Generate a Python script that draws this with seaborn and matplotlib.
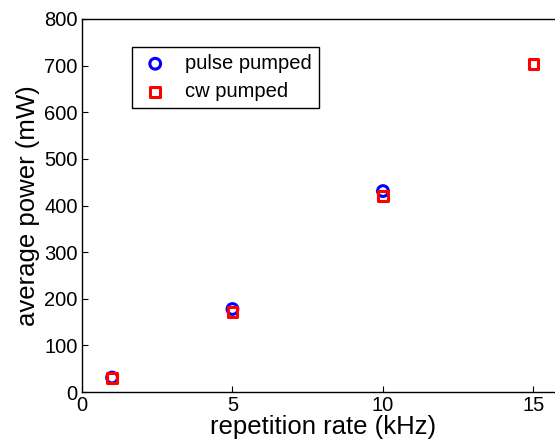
import matplotlib
matplotlib.use("Agg")
import matplotlib.pyplot as plt
import seaborn as sns
import pandas as pd

# --- Data ---
pulse_rate = [1, 5, 10]
pulse_power = [31, 178, 431]
cw_rate = [1, 5, 10, 15]
cw_power = [30, 172, 421, 704]

sns.set_style("ticks")
plt.rcParams["font.family"] = ["Liberation Sans", "DejaVu Sans"]
plt.rcParams["text.color"] = "black"
plt.rcParams["axes.labelcolor"] = "black"
plt.rcParams["xtick.color"] = "black"
plt.rcParams["ytick.color"] = "black"

fig = plt.figure(figsize=(5.55, 4.47), dpi=100)
ax = fig.add_axes([0.1477, 0.123, 0.8677, 0.8345])

df_pulse = pd.DataFrame({"rate": pulse_rate, "power": pulse_power})
df_cw = pd.DataFrame({"rate": cw_rate, "power": cw_power})

sns.scatterplot(data=df_pulse, x="rate", y="power", ax=ax, marker="o", s=60,
                facecolor="none", edgecolor="#0000ff", linewidth=2.2,
                label="pulse pumped", zorder=3)
sns.scatterplot(data=df_cw, x="rate", y="power", ax=ax, marker="s", s=50,
                facecolor="none", edgecolor="#ff0000", linewidth=2.2,
                label="cw pumped", zorder=4)

ax.set_xlim(0, 16)
ax.set_ylim(0, 800)
ax.set_xticks([0, 5, 10, 15])
ax.set_yticks(range(0, 801, 100))
ax.tick_params(direction="in", length=4, width=0.8, labelsize=14.5, pad=3,
               top=False, right=False, colors="black")
for s in ax.spines.values():
    s.set_linewidth(1.0)
    s.set_color("black")

ax.set_xlabel("repetition rate (kHz)", fontsize=18.5, labelpad=0, color="black")
ax.set_ylabel("average power (mW)", fontsize=18.5, labelpad=3, color="black")

leg = ax.legend(loc="upper left", bbox_to_anchor=(0.104, 0.925), fontsize=14.5,
                frameon=True, fancybox=False, framealpha=1, edgecolor="black",
                borderpad=0.35, handletextpad=0.7, labelspacing=0.45,
                handlelength=1.6, borderaxespad=0)
leg.get_frame().set_linewidth(1.0)

fig.savefig("out.png", dpi=100)
